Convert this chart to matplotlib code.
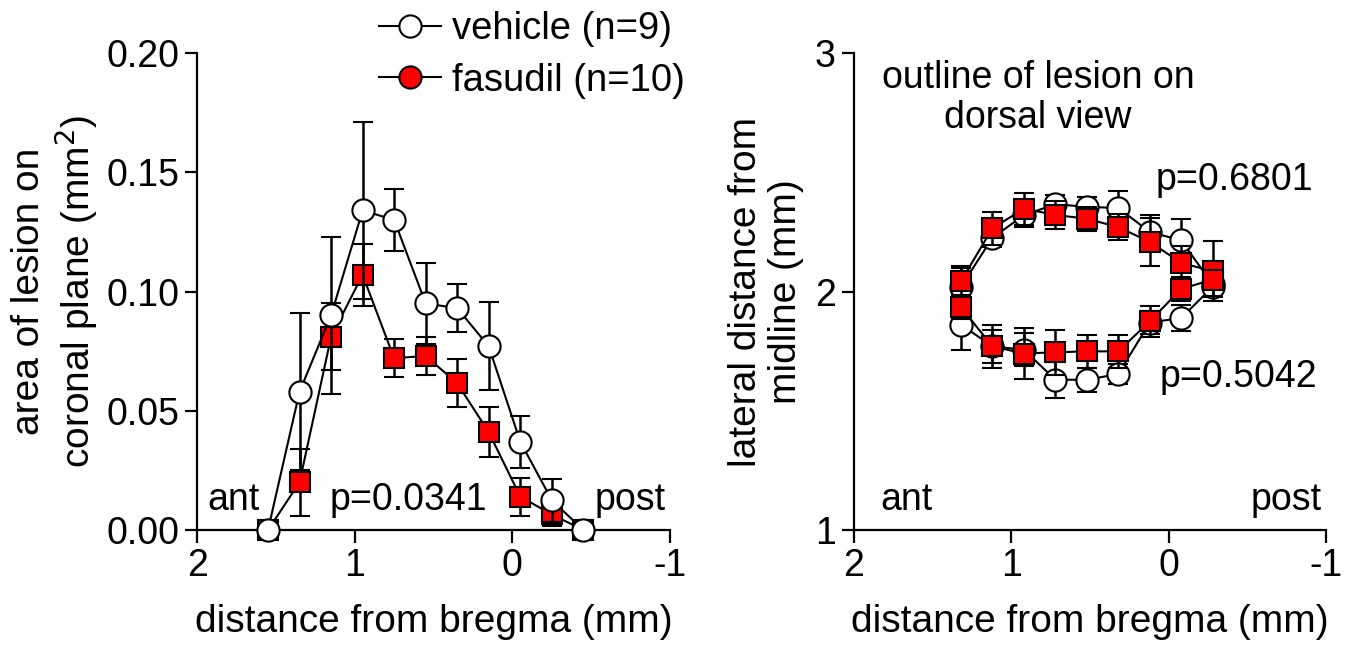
import matplotlib
matplotlib.use("Agg")
import matplotlib.pyplot as plt
from matplotlib.lines import Line2D
from matplotlib.ticker import FormatStrFormatter

plt.rcParams['font.family'] = ['Liberation Sans', 'DejaVu Sans']
plt.rcParams['font.size'] = 27
plt.rcParams['axes.unicode_minus'] = False

# left panel: area of lesion on coronal plane
x_left = [1.55, 1.35, 1.15, 0.95, 0.75, 0.55, 0.35, 0.15, -0.05, -0.25, -0.45]
veh_area = [0, 0.058, 0.090, 0.134, 0.130, 0.095, 0.093, 0.077, 0.037, 0.0125, 0]
veh_area_sem = [0, 0.033, 0.033, 0.037, 0.013, 0.017, 0.010, 0.0185, 0.011, 0.009, 0]
fas_area = [0, 0.020, 0.081, 0.107, 0.072, 0.073, 0.0615, 0.041, 0.014, 0.0065, 0]
fas_area_sem = [0, 0.014, 0.014, 0.013, 0.008, 0.008, 0.010, 0.0105, 0.008, 0.005, 0]

# right panel: outline of lesion (upper and lower edge)
x_right = [1.32, 1.12, 0.92, 0.72, 0.52, 0.32, 0.12, -0.08, -0.28]
veh_upper = [2.02, 2.225, 2.32, 2.366, 2.355, 2.35, 2.25, 2.214, 2.03]
veh_upper_sem = [0.08, 0.04, 0.05, 0.04, 0.04, 0.07, 0.07, 0.09, 0.05]
veh_lower = [1.861, 1.77, 1.756, 1.63, 1.63, 1.654, 1.87, 1.889, 2.02]
veh_lower_sem = [0.108, 0.07, 0.07, 0.075, 0.05, 0.04, 0.05, 0.056, 0.045]
fas_upper = [2.043, 2.265, 2.347, 2.321, 2.305, 2.27, 2.208, 2.12, 2.085]
fas_upper_sem = [0.065, 0.07, 0.067, 0.057, 0.05, 0.056, 0.1, 0.07, 0.125]
fas_lower = [1.934, 1.77, 1.74, 1.745, 1.749, 1.749, 1.875, 2.011, 2.05]
fas_lower_sem = [0.05, 0.09, 0.105, 0.095, 0.07, 0.07, 0.065, 0.05, 0.07]

veh_style = dict(marker='o', ms=16, mfc='white', mec='black', mew=1.5,
                 color='black', lw=1.5, ecolor='black', elinewidth=1.8,
                 capsize=7.5, capthick=1.8)
fas_style = dict(marker='s', ms=15, mfc='#ff0000', mec='black', mew=1.5,
                 color='black', lw=1.5, ecolor='black', elinewidth=1.8,
                 capsize=7.5, capthick=1.8)

fig = plt.figure(figsize=(13.6, 6.48), dpi=100)
ax1 = fig.add_axes([0.1449, 0.1821, 0.3478, 0.7361])
ax2 = fig.add_axes([0.6279, 0.1821, 0.3471, 0.7361])


def style_axis(ax):
    for s in ['top', 'right']:
        ax.spines[s].set_visible(False)
    for s in ['left', 'bottom']:
        ax.spines[s].set_linewidth(1.6)
    ax.tick_params(width=1.6, length=9, pad=4, labelsize=27)
    ax.set_xlim(2, -1)
    ax.set_xticks([2, 1, 0, -1])
    ax.set_xlabel('distance from bregma (mm)', fontsize=28)
    ax.xaxis.set_label_coords(0.5, -0.155)


# left
ax1.errorbar(x_left, fas_area, yerr=fas_area_sem, zorder=3, **fas_style)
ax1.errorbar(x_left, veh_area, yerr=veh_area_sem, zorder=4, **veh_style)
style_axis(ax1)
ax1.set_ylim(0, 0.20)
ax1.set_yticks([0, 0.05, 0.10, 0.15, 0.20])
ax1.yaxis.set_major_formatter(FormatStrFormatter('%.2f'))
ax1.set_ylabel('area of lesion on\ncoronal plane (mm$^2$)', linespacing=1.15, fontsize=28)
ax1.yaxis.set_label_coords(-0.205, 0.5)
for art in ax1.get_children():
    art.set_clip_on(False)
ax1.text(0.021, 0.042, 'ant', transform=ax1.transAxes)
ax1.text(0.281, 0.042, 'p=0.0341', transform=ax1.transAxes)
ax1.text(0.99, 0.042, 'post', transform=ax1.transAxes, ha='right')

# right
ax2.errorbar(x_right, veh_upper, yerr=veh_upper_sem, zorder=3, **veh_style)
ax2.errorbar(x_right, veh_lower, yerr=veh_lower_sem, zorder=3, **veh_style)
ax2.errorbar(x_right, fas_upper, yerr=fas_upper_sem, zorder=4, **fas_style)
ax2.errorbar(x_right, fas_lower, yerr=fas_lower_sem, zorder=4, **fas_style)
style_axis(ax2)
ax2.set_ylim(1, 3)
ax2.set_yticks([1, 2, 3])
ax2.set_ylabel('lateral distance from\nmidline (mm)', linespacing=1.15, fontsize=28)
ax2.yaxis.set_label_coords(-0.105, 0.5)
ax2.text(0.055, 0.042, 'ant', transform=ax2.transAxes)
ax2.text(0.99, 0.042, 'post', transform=ax2.transAxes, ha='right')
ax2.text(0.39, 0.985, 'outline of lesion on\ndorsal view', transform=ax2.transAxes,
         ha='center', va='top', linespacing=1.15)
ax2.text(0.638, 0.713, 'p=0.6801', transform=ax2.transAxes)
ax2.text(0.648, 0.30, 'p=0.5042', transform=ax2.transAxes)

handles = [
    Line2D([], [], marker='o', ms=16, mfc='white', mec='black', mew=1.5, color='black', lw=1.5),
    Line2D([], [], marker='o', ms=16, mfc='#ff0000', mec='black', mew=1.5, color='black', lw=1.5),
]
fig.legend(handles, ['vehicle (n=9)', 'fasudil (n=10)'], loc='upper left',
           bbox_to_anchor=(0.265, 1.012), frameon=False, handlelength=1.6,
           handletextpad=0.3, labelspacing=0.4, fontsize=27.5, borderaxespad=0.1)

fig.savefig('out.png', dpi=100)
